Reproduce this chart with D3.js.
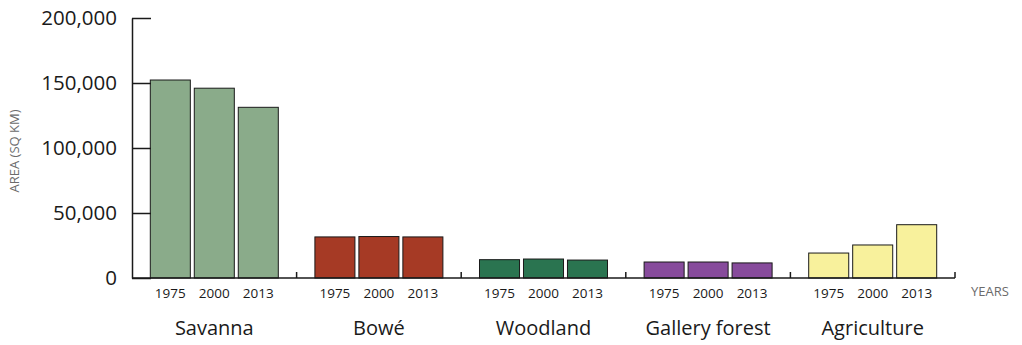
<!DOCTYPE html>
<html>
<head>
<meta charset="utf-8">
<script src="https://cdn.jsdelivr.net/npm/d3@7"></script>
<style>
  body { margin: 0; background: #fff; }
  text { font-family: 'Open Sans', sans-serif; }
</style>
</head>
<body>
<div id="chart"></div>
<script>
// data
const categories = ['Savanna', 'Bowé', 'Woodland', 'Gallery forest', 'Agriculture'];
const years = ['1975', '2000', '2013'];
const savanna = [152300, 146000, 131300];
const bowe = [31600, 31900, 31600];
const woodland = [14100, 14600, 13800];
const gallery = [12300, 12300, 11600];
const agriculture = [19200, 25400, 41000];
const yTicks = [0, 50000, 100000, 150000, 200000];
const colors = ['#8aab8a', '#a63a25', '#2a7450', '#874b9c', '#f8f19c'];

const seriesByCat = [savanna, bowe, woodland, gallery, agriculture];

const W = 1022, H = 345;
var margin = {top: 18, left: 132, right: 67, bottom: 67};

var svg = d3.select('#chart')
            .append('svg')
            .attr('width', W)
            .attr('height', H);

var x = d3.scaleBand()
          .domain(categories)
          .range([margin.left, W - margin.right])
          .padding(0);

var xInner = d3.scaleBand()
               .domain(years)
               .range([0, x.bandwidth()])
               .paddingInner(0.09)
               .paddingOuter(0.416);

var y = d3.scaleLinear()
          .domain([0, 200000])
          .range([H - margin.bottom, margin.top]);

// bars
var groups = svg.selectAll('.cat')
                .data(categories)
                .enter()
                .append('g')
                .attr('class', 'cat')
                .attr('transform', d => `translate(${x(d)},0)`);

groups.selectAll('rect')
      .data((d, i) => years.map((yr, j) => ({yr: yr, v: seriesByCat[i][j], c: colors[i]})))
      .enter()
      .append('rect')
      .attr('x', d => xInner(d.yr))
      .attr('y', d => y(d.v))
      .attr('width', xInner.bandwidth())
      .attr('height', d => y(0) - y(d.v))
      .attr('fill', d => d.c)
      .attr('stroke', '#1a1a1a')
      .attr('stroke-width', 1);

// year labels
groups.selectAll('.yr')
      .data(years)
      .enter()
      .append('text')
      .attr('class', 'yr')
      .attr('x', d => xInner(d) + xInner.bandwidth() / 2)
      .attr('y', y(0) + 20)
      .attr('text-anchor', 'middle')
      .style('font-size', '13.5px')
      .style('fill', '#1a1a1a')
      .text(d => d);

// category labels
groups.append('text')
      .attr('x', x.bandwidth() / 2)
      .attr('y', y(0) + 57)
      .attr('text-anchor', 'middle')
      .style('font-size', '20px')
      .style('fill', '#1a1a1a')
      .text(d => d);

// y axis
var yAxis = d3.axisLeft(y)
              .tickValues(yTicks)
              .tickFormat(d3.format(','))
              .tickSizeInner(-19)
              .tickSizeOuter(0)
              .tickPadding(15);

var gy = svg.append('g')
            .attr('transform', `translate(${margin.left},0)`)
            .call(yAxis);
gy.select('.domain').attr('stroke', '#1a1a1a').attr('stroke-width', 1.5);
gy.selectAll('.tick line').attr('stroke', '#1a1a1a').attr('stroke-width', 1.5);
gy.selectAll('.tick text')
  .style('font-family', "'Open Sans', sans-serif")
  .style('font-size', '20.5px')
  .style('fill', '#1a1a1a');

// baseline with small ticks at category boundaries
var gx = svg.append('g');
gx.append('line')
  .attr('x1', margin.left)
  .attr('x2', W - margin.right)
  .attr('y1', y(0))
  .attr('y2', y(0))
  .attr('stroke', '#1a1a1a')
  .attr('stroke-width', 1.5);
gx.selectAll('.sep')
  .data(categories)
  .enter()
  .append('line')
  .attr('x1', d => x(d) + x.bandwidth())
  .attr('x2', d => x(d) + x.bandwidth())
  .attr('y1', y(0))
  .attr('y2', y(0) - 6)
  .attr('stroke', '#1a1a1a')
  .attr('stroke-width', 1.5);

// axis titles
svg.append('text')
   .attr('transform', `translate(19,${(y(0) + y(200000)) / 2 + 3}) rotate(-90)`)
   .attr('text-anchor', 'middle')
   .style('font-size', '13px')
   .style('fill', '#6b6b6b')
   .text('AREA (SQ KM)');

svg.append('text')
   .attr('x', 990)
   .attr('y', y(0) + 18)
   .attr('text-anchor', 'middle')
   .style('font-size', '13px')
   .style('fill', '#6b6b6b')
   .text('YEARS');
</script>
</body>
</html>
